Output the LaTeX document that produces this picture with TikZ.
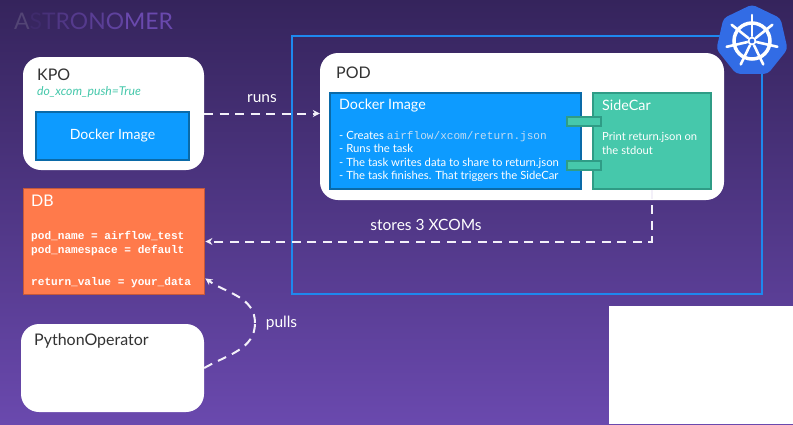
\documentclass[tikz,border=0pt]{standalone}
\usepackage{fontspec}
\setmainfont{Lato}
\setmonofont{Liberation Mono}
\usetikzlibrary{arrows.meta, positioning, shapes.geometric}

\definecolor{bgtop}{HTML}{35245C}
\definecolor{bgbottom}{HTML}{6A49AE}
\definecolor{dockerblue}{HTML}{0D9BFF}
\definecolor{dockeredge}{HTML}{0A6AA8}
\definecolor{sidegreen}{HTML}{46C8AB}
\definecolor{sideedge}{HTML}{2F9C86}
\definecolor{dborange}{HTML}{FF7A4B}
\definecolor{dbedge}{HTML}{C4593A}
\definecolor{framecol}{HTML}{1E88EE}
\definecolor{helmblue}{HTML}{326CE5}
\definecolor{pathcol}{HTML}{C4DDF2}

\tikzset{
    whitebox/.style={draw=none, fill=white, rounded corners=18, inner sep=0},
    dockerbox/.style={draw=dockeredge, line width=1.5, fill=dockerblue, inner sep=0},
    sidebox/.style={draw=sideedge, line width=1.5, fill=sidegreen, inner sep=0},
    linkbox/.style={draw=sideedge, line width=1.5, fill=sidegreen, inner sep=0, minimum width=34, minimum height=9},
    dbbox/.style={draw=dbedge, line width=1.8, fill=dborange, inner sep=0},
    title/.style={anchor=west, inner sep=0, text=#1, font=\fontsize{16}{19}\selectfont},
    title/.default=black!80,
    label/.style={inner sep=0, text=white, font=\fontsize{15.5}{18}\selectfont},
    dashline/.style={draw=white!92!bgbottom, line width=2, dash pattern=on 9 off 6.5},
    dashtip/.style={dashline, -{Stealth[length=7, width=7]}}
}

\begin{document}
\begin{tikzpicture}[x=1pt, y=1pt]
    \useasboundingbox (0,0) rectangle (793,-424);
    \shade [top color=bgtop, bottom color=bgbottom] (0,0) rectangle (793,-424);
    \fill [white] (609,-306) rectangle (793,-424);

    % logo text
    \path (14,-21) node (logo) [anchor=west, inner sep=0, font=\fontsize{22.9}{26}\selectfont] {%
        \textcolor{bgtop!85!white}{A}\textcolor{bgtop!80!bgbottom}{S}\textcolor{bgtop!65!bgbottom}{T}%
        \textcolor{bgtop!50!bgbottom}{R}\textcolor{bgtop!40!bgbottom}{O}\textcolor{bgtop!30!bgbottom}{N}%
        \textcolor{bgtop!20!bgbottom}{O}\textcolor{bgbottom}{MER}};

    \path (527,-165) node (frame) [draw=framecol, line width=2, inner sep=0, minimum width=470, minimum height=258] {};

    % kpo
    \path (113.5,-113.5) node (kpo) [whitebox, minimum width=181, minimum height=113] {}
        (112.5,-136) node (kpoimage) [dockerbox, minimum width=153, minimum height=48,
            text=white, font=\fontsize{14.1}{17}\selectfont] {Docker Image}
        (37,-75) node (kpotitle) [title] {KPO}
        (37,-92) node (kpoflag) [title=sidegreen, font=\fontsize{12.2}{14}\selectfont\itshape] {do\_xcom\_push=True};

    % pod
    \path (522,-126.5) node (pod) [whitebox, minimum width=404, minimum height=147] {}
        (455.5,-141) node (podimage) [dockerbox, minimum width=251, minimum height=96] {}
        (652,-141) node (sidecar) [sidebox, minimum width=118, minimum height=96] {}
        (584,-121.5) node (linktop) [linkbox] {}
        (584,-165.5) node (linkbottom) [linkbox] {}
        (336,-73) node (podtitle) [title] {POD}
        (339,-105.5) node (podimagetitle) [title=white, font=\fontsize{14.3}{17}\selectfont] {Docker Image}
        (602,-105.5) node (sidecartitle) [title=white, font=\fontsize{14.3}{17}\selectfont] {SideCar}
        (339,-156.5) node (podimagetext) [anchor=west, align=left, inner sep=0, text=white,
            font=\fontsize{11.3}{13.4}\selectfont] {- Creates \textcolor{pathcol}{\fontsize{11.1}{13.4}\selectfont\ttfamily airflow/xcom/return.json}\\
            - Runs the task\\
            - The task writes data to share to return.json\\
            - The task finishes. That triggers the SideCar}
        (602,-143.5) node (sidecartext) [anchor=west, align=left, inner sep=0, text=white,
            font=\fontsize{11.2}{13.4}\selectfont] {Print return.json on\\the stdout};

    % db
    \path (114,-241.5) node (db) [dbbox, minimum width=181, minimum height=106] {}
        (31,-201) node (dbtitle) [title=white] {DB}
        (31,-259.5) node (dbtext) [anchor=west, align=left, inner sep=0, text=white,
            font=\fontsize{11.1}{13.8}\selectfont\ttfamily\bfseries] {pod\_name = airflow\_test\\
            pod\_namespace = default\\[18.5pt]
            return\_value = your\_data};

    % python operator
    \path (112.5,-368) node (pyop) [whitebox, minimum width=183, minimum height=88] {}
        (34,-341) node (pyoptitle) [title] {PythonOperator};

    % connectors
    \coordinate (pullbend) at (255,-323);
    \draw [dashtip] (kpo.east) -- (kpo.east -| pod.west);
    \draw [dashtip] (sidecar.south) |- (db.east);
    \draw [dashline] (pyop.east) to [out=30, in=-90] (pullbend);
    \draw [dashtip] (pullbend) to [out=90, in=-35] (db.-22);

    \path (262,-99) node (runs) [label] {runs}
        (426,-225) node (stores) [label] {stores 3 XCOMs}
        (281.5,-323) node (pulls) [label] {pulls};

    % helm logo
    \path (752,-41) node (helm) [regular polygon, regular polygon sides=7, fill=helmblue, rounded corners=4,
        minimum size=73, inner sep=0] {};
    \draw [white, line width=3.5] (helm.center) circle (18);
    \draw [white, line width=1.8] (helm.center) circle (3.5);
    \foreach \ang in {90, 141.43, 192.86, 244.29, 295.71, 347.14, 38.57}
        \draw [white, line width=2.6, line cap=round, shift={(helm.center)}] (\ang:5) -- (\ang:26);
\end{tikzpicture}
\end{document}
